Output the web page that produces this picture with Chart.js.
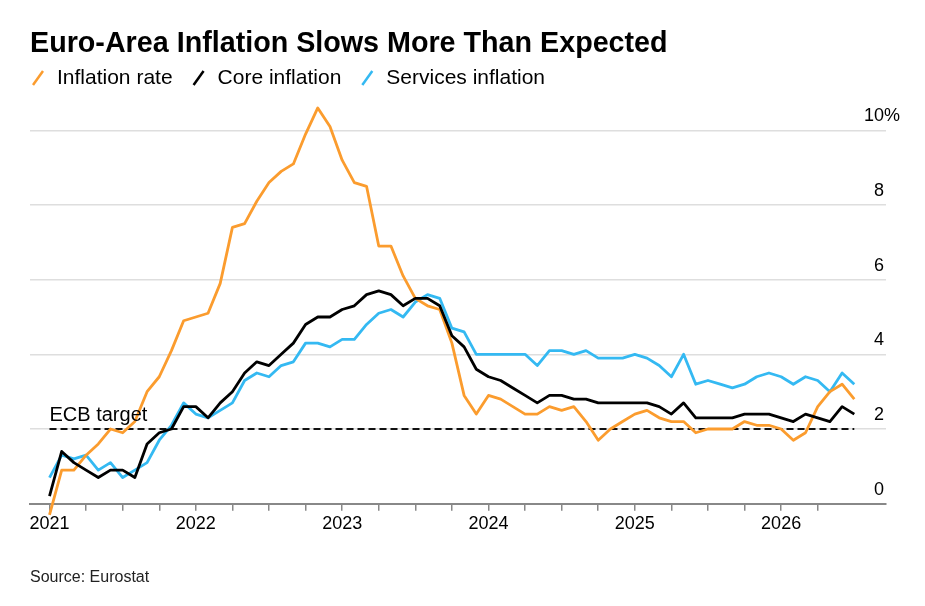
<!DOCTYPE html>
<html>
<head>
<meta charset="utf-8">
<script src="https://cdn.jsdelivr.net/npm/chart.js@4.4.0/dist/chart.umd.min.js"></script>
<style>
  html, body { margin: 0; padding: 0; background: #fff; }
</style>
</head>
<body>
<canvas id="line-chart" width="925" height="606"></canvas>
<script>
// month index 0 sits on the "2021" tick, one point per month
var months = ['2020-12','2021-01','2021-02','2021-03','2021-04','2021-05','2021-06','2021-07','2021-08','2021-09','2021-10','2021-11',
              '2021-12','2022-01','2022-02','2022-03','2022-04','2022-05','2022-06','2022-07','2022-08','2022-09','2022-10','2022-11',
              '2022-12','2023-01','2023-02','2023-03','2023-04','2023-05','2023-06','2023-07','2023-08','2023-09','2023-10','2023-11',
              '2023-12','2024-01','2024-02','2024-03','2024-04','2024-05','2024-06','2024-07','2024-08','2024-09','2024-10','2024-11',
              '2024-12','2025-01','2025-02','2025-03','2025-04','2025-05','2025-06','2025-07','2025-08','2025-09','2025-10','2025-11',
              '2025-12','2026-01','2026-02','2026-03','2026-04','2026-05','2026-06']

var inflationRate = [-0.3, 0.9, 0.9, 1.3, 1.6, 2.0, 1.9, 2.2, 3.0, 3.4, 4.1, 4.9,
                     5.0, 5.1, 5.9, 7.4, 7.5, 8.1, 8.6, 8.9, 9.1, 9.9, 10.6, 10.1,
                     9.2, 8.6, 8.5, 6.9, 6.9, 6.1, 5.5, 5.3, 5.2, 4.3, 2.9, 2.4,
                     2.9, 2.8, 2.6, 2.4, 2.4, 2.6, 2.5, 2.6, 2.2, 1.7, 2.0, 2.2,
                     2.4, 2.5, 2.3, 2.2, 2.2, 1.9, 2.0, 2.0, 2.0, 2.2, 2.1, 2.1,
                     2.0, 1.7, 1.9, 2.6, 3.0, 3.2, 2.8]

var coreInflation = [0.2, 1.4, 1.1, 0.9, 0.7, 0.9, 0.9, 0.7, 1.6, 1.9, 2.0, 2.6,
                     2.6, 2.3, 2.7, 3.0, 3.5, 3.8, 3.7, 4.0, 4.3, 4.8, 5.0, 5.0,
                     5.2, 5.3, 5.6, 5.7, 5.6, 5.3, 5.5, 5.5, 5.3, 4.5, 4.2, 3.6,
                     3.4, 3.3, 3.1, 2.9, 2.7, 2.9, 2.9, 2.8, 2.8, 2.7, 2.7, 2.7,
                     2.7, 2.7, 2.6, 2.4, 2.7, 2.3, 2.3, 2.3, 2.3, 2.4, 2.4, 2.4,
                     2.3, 2.2, 2.4, 2.3, 2.2, 2.6, 2.4]

var servicesInflation = [0.7, 1.3, 1.2, 1.3, 0.9, 1.1, 0.7, 0.9, 1.1, 1.7, 2.1, 2.7,
                         2.4, 2.3, 2.5, 2.7, 3.3, 3.5, 3.4, 3.7, 3.8, 4.3, 4.3, 4.2,
                         4.4, 4.4, 4.8, 5.1, 5.2, 5.0, 5.4, 5.6, 5.5, 4.7, 4.6, 4.0,
                         4.0, 4.0, 4.0, 4.0, 3.7, 4.1, 4.1, 4.0, 4.1, 3.9, 3.9, 3.9,
                         4.0, 3.9, 3.7, 3.4, 4.0, 3.2, 3.3, 3.2, 3.1, 3.2, 3.4, 3.5,
                         3.4, 3.2, 3.4, 3.3, 3.0, 3.5, 3.2]

var ecbTarget = 2
var yTickValues = [0, 2, 4, 6, 8, 10]
var firstYear = 2021

var FONT = "'Liberation Sans', Arial, sans-serif"

function toPoints(values) {
    return values.map(function (v, i) { return {x: i, y: v} })
}

// legend, y labels and the ECB label, drawn on top of the chart
var extras = {
    id: 'extras',
    afterDraw: function (chart) {
        var ctx = chart.ctx
        var area = chart.chartArea
        var y = chart.scales.y
        var x = chart.scales.x
        ctx.save()

        // legend with slash markers
        ctx.font = '21px ' + FONT
        ctx.textBaseline = 'middle'
        ctx.textAlign = 'left'
        var lx = area.left + 2
        var ly = 78
        chart.data.datasets.forEach(function (ds) {
            if (ds.noLegend) return
            ctx.strokeStyle = ds.borderColor
            ctx.lineWidth = 2.5
            ctx.beginPath()
            ctx.moveTo(lx + 1, ly + 7)
            ctx.lineTo(lx + 11, ly - 7)
            ctx.stroke()
            ctx.fillStyle = '#000'
            ctx.fillText(ds.label, lx + 25, ly)
            lx += 25 + ctx.measureText(ds.label).width + 20
        })

        // right hand tick labels, sitting above their grid lines
        ctx.font = '18px ' + FONT
        ctx.textBaseline = 'alphabetic'
        yTickValues.forEach(function (v) {
            var py = y.getPixelForValue(v) - 9
            ctx.textAlign = 'right'
            ctx.fillText(String(v), area.right - 2, py)
            if (v === yTickValues[yTickValues.length - 1]) {
                ctx.textAlign = 'left'
                ctx.fillText('%', area.right - 2, py)
            }
        })

        // ECB target label
        ctx.font = '20px ' + FONT
        ctx.textAlign = 'left'
        ctx.fillText('ECB target', x.getPixelForValue(0), y.getPixelForValue(ecbTarget) - 8)
        ctx.restore()
    }
}

lineChart = new Chart(document.getElementById("line-chart"), {
    type: 'line',
    data: {
        datasets: [
            {
                label: "Inflation rate",
                data: toPoints(inflationRate),
                borderColor: "#FB9C2E",
                borderWidth: 2.8,
                order: 2
            }, {
                label: "Core inflation",
                data: toPoints(coreInflation),
                borderColor: "#000000",
                borderWidth: 2.8,
                order: 1
            }, {
                label: "Services inflation",
                data: toPoints(servicesInflation),
                borderColor: "#34B9F2",
                borderWidth: 2.8,
                order: 3
            }, {
                label: "ECB target",
                noLegend: true,
                data: [{x: 0, y: ecbTarget}, {x: months.length - 1, y: ecbTarget}],
                borderColor: "#111111",
                borderWidth: 2,
                borderDash: [7, 4],
                order: 4
            }
        ]
    },
    options: {
        responsive: false,
        animation: false,
        events: [],
        layout: {padding: {top: 27, left: 30, right: 39, bottom: 18.5}},
        elements: {
            point: {radius: 0},
            line: {tension: 0, borderJoinStyle: 'round', fill: false}
        },
        datasets: {line: {clip: false}},
        scales: {
            x: {
                type: 'linear',
                min: -1.6,
                max: 68.6,
                grid: {drawOnChartArea: false, drawTicks: true, tickLength: 7, color: '#888', lineWidth: 1.5},
                border: {display: true, color: '#888', width: 2},
                afterBuildTicks: function (axis) {
                    axis.ticks = axis.ticks.filter(function (t) { return t.value >= 0 && t.value <= months.length - 4 })
                },
                ticks: {
                    stepSize: 3,
                    includeBounds: false,
                    autoSkip: false,
                    maxRotation: 0,
                    padding: 3,
                    color: '#000',
                    font: {family: FONT, size: 18},
                    callback: function (v) { return v % 12 === 0 ? String(firstYear + v / 12) : '' }
                }
            },
            y: {
                position: 'right',
                min: 0,
                max: 10.88,
                grid: {color: '#dedede', lineWidth: 1.5, drawTicks: false},
                border: {display: false},
                afterBuildTicks: function (axis) {
                    axis.ticks = yTickValues.map(function (v) { return {value: v} })
                },
                ticks: {display: false}
            }
        },
        plugins: {
            legend: {display: false},
            tooltip: {enabled: false},
            title: {
                display: true,
                text: 'Euro-Area Inflation Slows More Than Expected',
                align: 'start',
                color: '#000',
                font: {family: FONT, size: 28.7, weight: 'bold'},
                padding: {top: 0, bottom: 36}
            },
            subtitle: {
                display: true,
                position: 'bottom',
                text: 'Source: Eurostat',
                align: 'start',
                color: '#222',
                font: {family: FONT, size: 16},
                padding: {top: 30, bottom: 0}
            }
        }
    },
    plugins: [extras]
});
</script>
</body>
</html>
